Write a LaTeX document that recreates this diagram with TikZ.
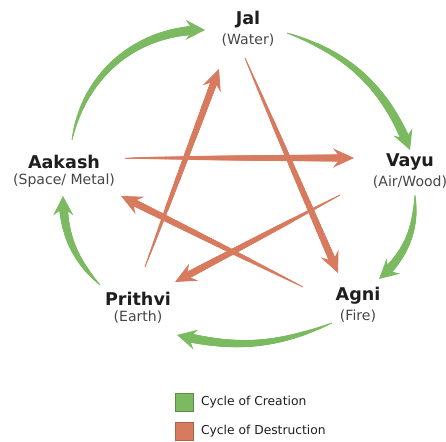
\documentclass[tikz,border=0pt]{standalone}
\usepackage{fontspec}
\setmainfont{DejaVu Sans}
\usepackage{xcolor}
\usetikzlibrary{arrows.meta, positioning, decorations.markings}
\definecolor{creationgreen}{RGB}{124, 186, 98}
\definecolor{destructred}{RGB}{216, 122, 94}
\definecolor{darktext}{RGB}{30, 30, 30}
\definecolor{subtext}{RGB}{70, 70, 70}

% brush stroke: thin at the start, growing towards the arrow head
\tikzset{
    taper/.style={postaction={decorate, decoration={markings,
        mark=between positions 0 and -7pt step 0.4pt with {
            \pgfmathsetmacro\brushw{#1*sqrt(\pgfkeysvalueof{/pgf/decoration/mark info/distance from start}/\pgfdecoratedpathlength)}
            \fill circle (\brushw pt);}}}}
}

\begin{document}
\begin{tikzpicture}[
    x=0.02cm, y=0.02cm,
    title/.style={font=\bfseries\fontsize{10}{12}\selectfont, text=darktext, inner sep=0pt},
    sub/.style={font=\fontsize{8}{10}\selectfont, text=subtext, inner sep=0pt},
    create/.style={creationgreen, line width=0.5pt, -{Stealth[length=11pt, width=11.5pt, inset=4pt]}, taper=2.7},
    destroy/.style={destructred, line width=0.5pt, -{Stealth[length=12pt, width=11pt, inset=4.5pt]}, taper=2.1},
    legendbox/.style={rectangle, minimum size=9.8pt, inner sep=0pt, line width=0.6pt},
    legendtext/.style={font=\fontsize{7}{9}\selectfont, text=darktext, inner sep=0pt}
]
\useasboundingbox (0,0) rectangle (446,442);

% Elements
\node[title] (jal) at (248,422) {Jal};
\node[sub, below=2.5pt of jal] (jalsub) {(Water)};
\node[title] (vayu) at (410,280) {Vayu};
\node[sub, below=2.5pt of vayu] (vayusub) {(Air/Wood)};
\node[title] (agni) at (358,146) {Agni};
\node[sub, below=2.5pt of agni] (agnisub) {(Fire)};
\node[title] (prithvi) at (138,143) {Prithvi};
\node[sub, below=2.5pt of prithvi] (prithvisub) {(Earth)};
\node[title] (aakash) at (64,280) {Aakash};
\node[sub, below=2.5pt of aakash] (aakashsub) {(Space/ Metal)};

% Ends of the creation arcs
\coordinate (aakash-cout) at (72,302);
\coordinate (jal-cin) at (205,412);
\coordinate (jal-cout) at (287,409);
\coordinate (vayu-cin) at (410,292);
\coordinate (vayu-cout) at (415,247);
\coordinate (agni-cin) at (379,163);
\coordinate (agni-cout) at (332,119);
\coordinate (prithvi-cin) at (177,107);
\coordinate (prithvi-cout) at (100,157);
\coordinate (aakash-cin) at (63,246);

% Ends of the destruction star
\coordinate (jal-dout) at (245,384);
\coordinate (agni-din) at (338,169);
\coordinate (agni-dout) at (303,155);
\coordinate (aakash-din) at (121,246);
\coordinate (aakash-dout) at (125,284);
\coordinate (vayu-din) at (354,284);
\coordinate (vayu-dout) at (340,247);
\coordinate (prithvi-din) at (175,160);
\coordinate (prithvi-dout) at (145,175);
\coordinate (jal-din) at (219,373);

% Cycle of creation
\draw[create] (aakash-cout) to[bend left=40] (jal-cin);
\draw[create] (jal-cout) to[bend left=25] (vayu-cin);
\draw[create] (vayu-cout) to[bend left=25] (agni-cin);
\draw[create] (agni-cout) to[bend left=18] (prithvi-cin);
\draw[create] (prithvi-cout) to[bend left=22] (aakash-cin);

% Cycle of destruction
\draw[destroy] (jal-dout) -- (agni-din);
\draw[destroy] (agni-dout) -- (aakash-din);
\draw[destroy] (aakash-dout) -- (vayu-din);
\draw[destroy] (vayu-dout) -- (prithvi-din);
\draw[destroy] (prithvi-dout) -- (jal-din);

% Legend
\node[legendbox, fill=creationgreen, draw=creationgreen!75!black] (keycreate) at (184.5,39.5) {};
\node[legendtext, right=4pt of keycreate] {Cycle of Creation};
\node[legendbox, fill=destructred, draw=destructred!80!black] (keydestroy) at (184.5,10.5) {};
\node[legendtext, right=4pt of keydestroy] {Cycle of Destruction};

\end{tikzpicture}
\end{document}
